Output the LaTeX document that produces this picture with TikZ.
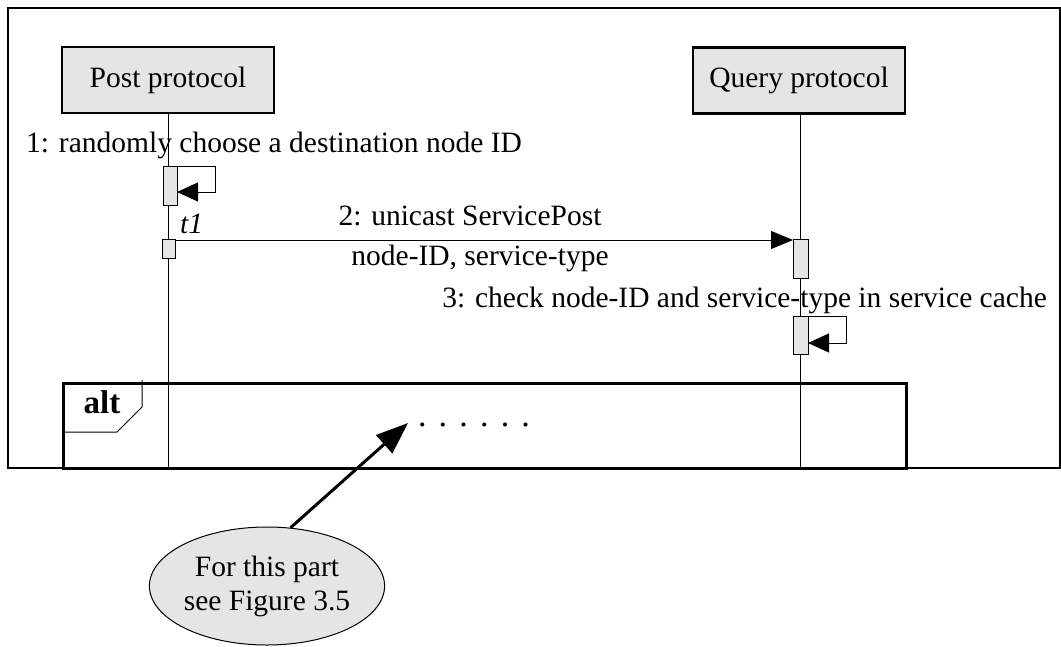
\documentclass[tikz,border=0pt]{standalone}
\usepackage{fontspec}
\setmainfont{Liberation Serif}
\usetikzlibrary{shapes.geometric,arrows.meta}
\definecolor{boxgray}{RGB}{229,229,229}
\newcommand\fsz{\fontsize{29.5}{34}\selectfont}
\begin{document}
\begin{tikzpicture}[x=1pt,y=-1pt,
  frame/.style={draw,anchor=north west,inner sep=0pt,outer sep=0pt},
  lifebox/.style={draw,line width=2.2pt,fill=boxgray,minimum width=212pt,minimum height=66pt,inner sep=0pt,font=\fsz},
  actbox/.style={draw,line width=1pt,fill=boxgray,inner sep=0pt,outer sep=0pt},
  lifeline/.style={line width=1pt},
  msg/.style={line width=1pt,-{Triangle[length=22pt,width=18pt]}},
  selfmsg/.style={line width=1pt,-{Triangle[length=21pt,width=19pt]}},
  lbl/.style={inner sep=0pt,font=\fsz},
  bigarrow/.style={line width=3pt,-{Triangle[length=32pt,width=24pt]}},
  note/.style={ellipse,draw,line width=1pt,fill=boxgray,minimum width=197pt,minimum height=118pt,inner sep=0pt,align=center,font=\fsz}
]
\useasboundingbox (0,0) rectangle (1061,646);

% outer frame
\node[frame,line width=2.7pt,minimum width=1052pt,minimum height=460pt] (outer) at (8,8) {};
% alt fragment
\node[frame,line width=3pt,minimum width=843pt,minimum height=85pt] (alt) at (63,383) {};
\draw[line width=1pt] (63,432) -- (117,432) -- (142,407) -- (142,380);
\node[lbl,anchor=base,font=\fontsize{33}{36}\selectfont\bfseries] (altlbl) at (102,413) {alt};

% lifeline heads
\node[lifebox] (post) at (168,80) {Post protocol};
\node[lifebox] (query) at (799,80.5) {Query protocol};

\coordinate (pbot) at (168.5,467);
\coordinate (qbot) at (800,467);
\draw[lifeline] (post.south -| pbot) -- (pbot);
\draw[lifeline] (query.south -| qbot) -- (qbot);

% activation boxes
\node[actbox,minimum width=14pt,minimum height=39pt] (a1) at (170,185.5) {};
\node[actbox,minimum width=13pt,minimum height=19pt] (a2) at (169,248.5) {};
\node[actbox,minimum width=15pt,minimum height=39pt] (q1) at (800.5,258.5) {};
\node[actbox,minimum width=15pt,minimum height=38pt] (q2) at (800.5,335) {};

% self message 1
\coordinate (s1) at (215,192);
\draw[selfmsg] (a1.north east) -| (s1) -- (a1.east |- s1);
% message 2
\draw[msg] ([yshift=-1pt]a2.north east) -- ([yshift=-1pt]q1.north west);
% self message 3
\coordinate (s3) at (846,343);
\draw[selfmsg] (q2.north east) -| (s3) -- (q2.east |- s3);

% labels
\node[lbl,anchor=base west] (l1) at (26,152) {1: randomly choose a destination node ID};
\node[lbl,anchor=base west,font=\fsz\itshape] (t1) at (180,233) {t1};
\node[lbl,anchor=base] (l2) at (470,225) {2: unicast ServicePost};
\node[lbl,anchor=base] (l2b) at (480,265) {node-ID, service-type};
\node[lbl,anchor=base east] (l3) at (1047,307) {3: check node-ID and service-type in service cache};

% dots
\node[lbl,anchor=base west,font=\fontsize{34}{36}\selectfont] (dots) at (417.8,426) {.\hspace{12.2pt}.\hspace{12.2pt}.\hspace{12.2pt}.\hspace{12.2pt}.\hspace{12.2pt}.};

% note
\node[note] (ell) at (267,586) {For this part\\see Figure 3.5};
\coordinate (tip) at (408,423);
\draw[bigarrow] (ell.68) -- (tip);
\end{tikzpicture}
\end{document}
